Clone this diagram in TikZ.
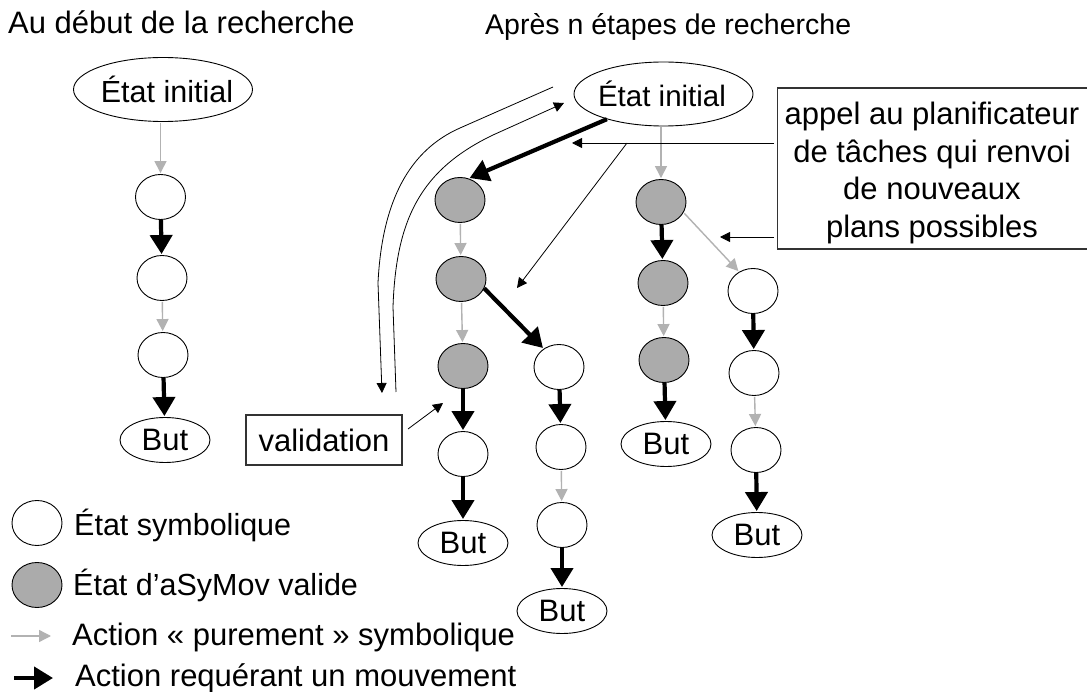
\documentclass[tikz,border=0pt]{standalone}
\usepackage{fontspec}
\setmainfont{Liberation Sans}
\usetikzlibrary{arrows.meta,shapes.geometric}
\tikzset{x=1pt,y=-1pt,
 stateshape/.style={ellipse,draw=black,line width=.9pt,inner sep=0pt,minimum width=50pt,minimum height=45pt},
 sym/.style={stateshape,fill=white},
 valid/.style={stateshape,fill=black!33},
 bigell/.style={ellipse,draw=black,line width=.9pt,inner sep=0pt,minimum width=179pt,minimum height=64pt},
 biglabel/.style={inner sep=0pt,font=\fontsize{29.5}{32}\selectfont},
 goal/.style={ellipse,draw=black,line width=.9pt,inner sep=0pt,minimum width=90pt,minimum height=45pt,font=\fontsize{31}{32}\selectfont},
 txt/.style={anchor=base west,inner sep=0pt,font=\fontsize{31}{34}\selectfont},
 note/.style={draw=black!80,line width=1.1pt,fill=white,inner sep=0pt,font=\fontsize{31}{37.5}\selectfont},
 grayarrow/.style={draw=black!30,line width=1.4pt,-{Triangle[length=12pt,width=12pt]},shorten >=1pt,shorten <=1pt},
 blackarrow/.style={draw=black,line width=4.2pt,-{Triangle[length=19pt,width=22pt]},shorten >=1pt},
 thinarrow/.style={draw=black,line width=.8pt,-{Triangle[length=10pt,width=10pt]}},
}
\begin{document}
\begin{tikzpicture}
\useasboundingbox (0,0) rectangle (1087,692);
\fill[white] (0,0) rectangle (1087,692);
\node[txt] (t1) at (8,34) {Au début de la recherche};
\node[txt,font=\fontsize{28.5}{32}\selectfont] (t2) at (485,35) {Après n étapes de recherche};
% left column
\node[bigell] (a0) at (163,89.5) {};
\node[biglabel,font=\fontsize{30.5}{32}\selectfont] (a0l) at (167,89.5) {État initial};
\node[sym] (a1) at (160.5,197) {};
\node[sym] (a2) at (162,278) {};
\node[sym] (a3) at (163,355) {};
\node[goal] (a4) at (165,440) {\raisebox{-1.5pt}{But}};
\draw[grayarrow] (a1 |- a0.south) -- (a1);
\draw[blackarrow] (a1) -- (a2);
\draw[grayarrow] (a2) -- (a3);
\draw[blackarrow] (a3) -- (a4);
% right tree
\node[bigell] (b0) at (663.5,94) {};
\node[biglabel] (b0l) at (662,94) {État initial};
\node[valid] (c1) at (460,200) {};
\node[valid] (c2) at (461,279) {};
\node[valid] (c3) at (463,366) {};
\node[sym] (c4) at (463,454) {};
\node[goal] (c5) at (463,543) {\raisebox{-1.5pt}{But}};
\node[sym] (d1) at (559,367) {};
\node[sym] (d2) at (561,447) {};
\node[sym] (d3) at (562,525) {};
\node[goal] (d4) at (562,611) {\raisebox{-1.5pt}{But}};
\node[valid] (e1) at (661,202) {};
\node[valid] (e2) at (663,283) {};
\node[valid] (e3) at (664,360) {};
\node[goal] (e4) at (666,444) {\raisebox{-1.5pt}{But}};
\node[sym] (f1) at (753,291) {};
\node[sym] (f2) at (754,373) {};
\node[sym] (f3) at (756,450) {};
\node[goal] (f4) at (757,535) {\raisebox{-1.5pt}{But}};
\draw[blackarrow] (b0.204) -- (c1.68);
\draw[grayarrow] (e1 |- b0.south) -- (e1);
\draw[grayarrow] (c1) -- (c2);
\draw[grayarrow] (c2) -- (c3);
\draw[blackarrow] (c2.-22) -- (d1.130);
\draw[blackarrow] (c3) -- (c4);
\draw[blackarrow] (c4) -- (c5);
\draw[blackarrow] (d1) -- (d2);
\draw[grayarrow] (d2) -- (d3);
\draw[blackarrow] (d3) -- (d4);
\draw[blackarrow] (e1) -- (e2);
\draw[grayarrow] (e2) -- (e3);
\draw[blackarrow] (e3) -- (e4);
\draw[grayarrow] (e1.-25) -- (f1.126);
\draw[blackarrow] (f1) -- (f2);
\draw[grayarrow] (f2) -- (f3);
\draw[blackarrow] (f3) -- (f4);
% notes
\node[note,minimum width=156pt,minimum height=50pt] (v) at (324,440) {validation};
\node[note,minimum width=320pt,minimum height=161pt,anchor=west] (p) at (777,168.5) {};
\node[inner sep=0pt,align=center,font=\fontsize{31}{37.5}\selectfont] (pl) at (932,173) {appel au planificateur\\de tâches qui renvoi\\de nouveaux\\plans possibles};
\coordinate (p1) at (p.west |- 0,143);
\coordinate (p1e) at (572,143);
\coordinate (p2s) at (627,143);
\coordinate (p2e) at (517,288);
\coordinate (p3) at (p.west |- 0,237);
\coordinate (p3e) at (720,237);
\coordinate (v1) at (408,429);
\coordinate (v2) at (443,403);
\draw[thinarrow,shorten <=3pt] (p1) -- (p1e);
\draw[thinarrow] (p2s) -- (p2e);
\draw[thinarrow,shorten <=3pt] (p3) -- (p3e);
\draw[thinarrow] (v1) -- (v2);
% return curves
\coordinate (r1) at (553,87);
\coordinate (r2) at (382,393);
\coordinate (r3) at (396,392);
\coordinate (r4) at (564,103);
\draw[thinarrow] (r1) -- (460,128) .. controls (410,150) and (382,200) .. (378,283) -- (r2);
\draw[thinarrow] (r3) -- (393,307) .. controls (396,220) and (420,170) .. (493,135) -- (r4);
% legend
\node[sym] (l1) at (37,523) {};
\node[valid] (l2) at (37,585) {};
\node[txt,font=\fontsize{30.5}{34}\selectfont] at (74,535) {État symbolique};
\node[txt,font=\fontsize{30.5}{34}\selectfont] at (73,595) {État d’aSyMov valide};
\coordinate (g1) at (10,636); \coordinate (g2) at (52,636);
\coordinate (k1) at (14,678); \coordinate (k2) at (53,678);
\draw[grayarrow] (g1) -- (g2);
\draw[blackarrow,shorten >=0pt] (k1) -- (k2);
\node[txt] at (72,645) {Action « purement » symbolique};
\node[txt] at (75,686) {Action requérant un mouvement};
\end{tikzpicture}
\end{document}
